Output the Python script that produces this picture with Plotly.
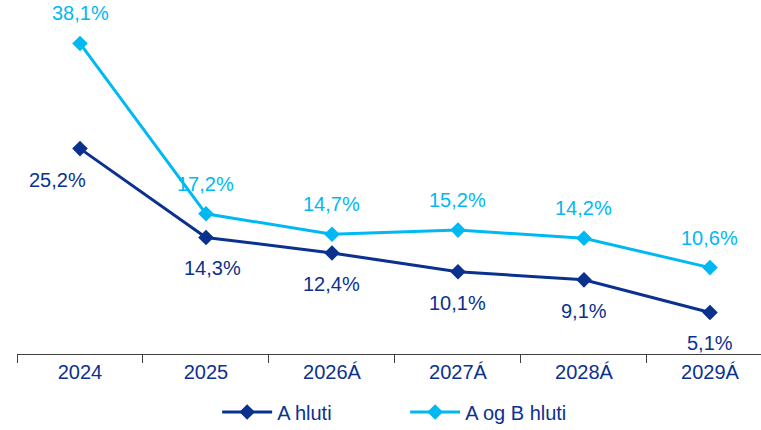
import plotly.graph_objects as go

categories = ["2024", "2025", "2026Á", "2027Á", "2028Á", "2029Á"]
a_hluti = [25.2, 14.3, 12.4, 10.1, 9.1, 5.1]
a_og_b_hluti = [38.1, 17.2, 14.7, 15.2, 14.2, 10.6]
series_names = ["A hluti", "A og B hluti"]

DARK = "#0B318F"
LIGHT = "#00B9F2"
FONT = "Liberation Sans, Arial, sans-serif"

def fmt(v):
    return f"{v:.1f}".replace(".", ",") + "%"

fig = go.Figure()
fig.add_trace(go.Scatter(x=categories, y=a_hluti, name=series_names[0], mode="lines+markers",
                         line=dict(color=DARK, width=3), marker=dict(symbol="diamond", size=12, color=DARK)))
fig.add_trace(go.Scatter(x=categories, y=a_og_b_hluti, name=series_names[1], mode="lines+markers",
                         line=dict(color=LIGHT, width=3), marker=dict(symbol="diamond", size=12, color=LIGHT)))

a_xshift = [-23, 7, 0, 0, 0, 0]
for i, v in enumerate(a_hluti):
    fig.add_annotation(x=i, y=v, text=fmt(v), showarrow=False, yshift=-31, xshift=a_xshift[i],
                       font=dict(family=FONT, size=20, color=DARK))
for i, v in enumerate(a_og_b_hluti):
    fig.add_annotation(x=i, y=v, text=fmt(v), showarrow=False, yshift=30,
                       font=dict(family=FONT, size=20, color=LIGHT))

fig.update_layout(
    width=761, height=430,
    margin=dict(l=17, r=0, t=28, b=76, autoexpand=False),
    paper_bgcolor="white", plot_bgcolor="white",
    font=dict(family=FONT, size=20, color=DARK),
    showlegend=True,
    legend=dict(orientation="h", x=0.269, y=-0.178,
                xanchor="left", yanchor="middle", font=dict(size=20, color=DARK),
                itemwidth=50, entrywidth=123, entrywidthmode="pixels"),
    xaxis=dict(type="category", range=[-0.5, 5.405], showgrid=False, showline=True,
               linecolor="#404040", linewidth=1, ticks="outside", tickson="boundaries",
               ticklen=8, tickcolor="#404040", tickfont=dict(size=20, color=DARK)),
    yaxis=dict(range=[0, 40], visible=False, showgrid=False, zeroline=False),
)
fig.write_html("out.html", config={"displayModeBar": False},
               post_script="document.body.style.margin='0';document.body.style.overflow='hidden';")
